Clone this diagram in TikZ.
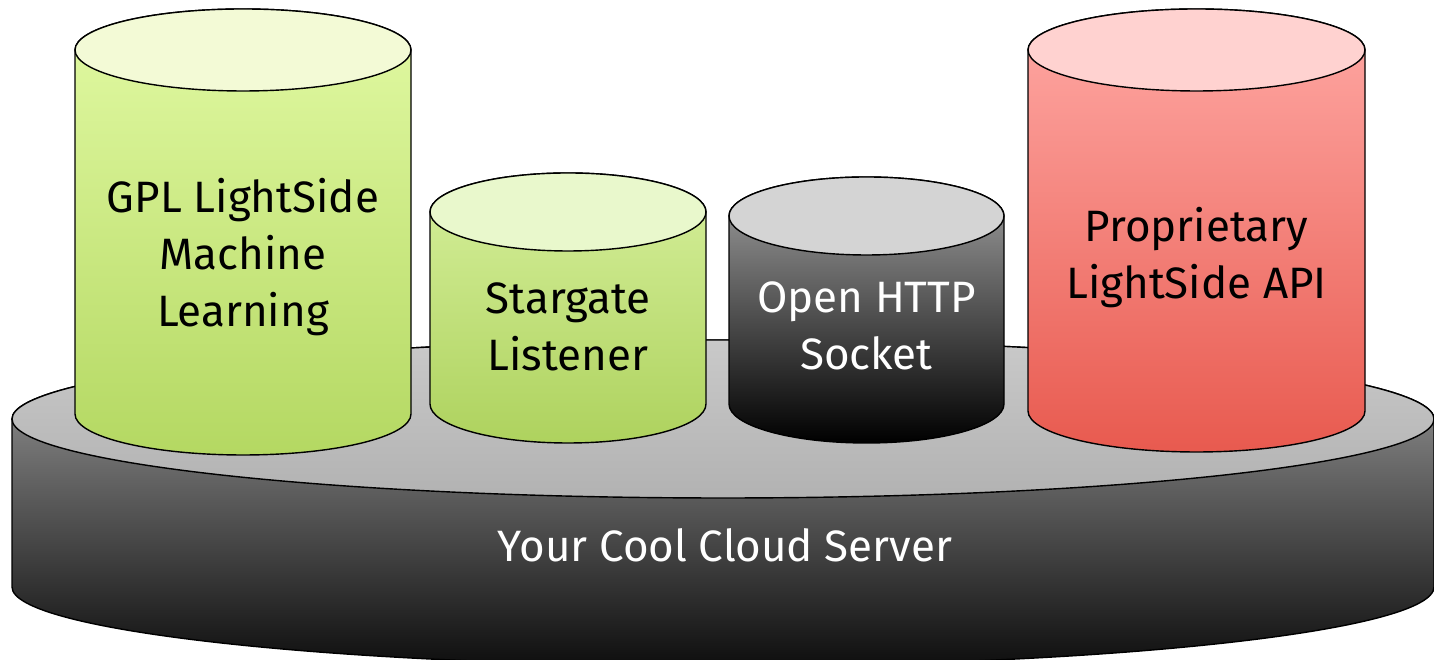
\documentclass[tikz,border=0pt]{standalone}
\usepackage{fontspec}
\setmainfont{Fira Sans}
\usetikzlibrary{positioning}

\definecolor{gpltop}{HTML}{F3FAD6}
\definecolor{gplhi}{HTML}{E2FAA4}
\definecolor{gpllo}{HTML}{B4D862}
\definecolor{sgtop}{HTML}{E9F8CC}
\definecolor{sghi}{HTML}{D6F09C}
\definecolor{sglo}{HTML}{AED25E}
\definecolor{socktop}{HTML}{D4D4D4}
\definecolor{sockhi}{HTML}{A4A4A4}
\definecolor{socklo}{HTML}{000000}
\definecolor{proptop}{HTML}{FFD2D0}
\definecolor{prophi}{HTML}{FFA9A5}
\definecolor{proplo}{HTML}{E85A4F}
\definecolor{srvtop}{HTML}{C9C9C9}
\definecolor{srvtoplo}{HTML}{B2B2B2}
\definecolor{srvhi}{HTML}{A2A2A2}
\definecolor{srvlo}{HTML}{0E0E0E}

\tikzset{
  outline/.style={draw=black, line width=0.8pt},
  label/.style={align=center, font=\fontsize{25}{32.5}\selectfont},
}

\begin{document}
\begin{tikzpicture}
			\useasboundingbox (0,0) rectangle (28.68,13.2);

			% Server disk
			\path[outline, top color=srvhi, bottom color=srvlo]
				(0.24,4.82) -- (0.24,1.46) arc[start angle=180, end angle=360, x radius=14.22, y radius=1.58]
				-- (28.68,4.82) arc[start angle=0, end angle=180, x radius=14.22, y radius=1.58] -- cycle;
			\draw[outline, top color=srvtop, bottom color=srvtoplo] (14.46,4.82) ellipse[x radius=14.22, y radius=1.58];
			\node[label, text=white] (server) at (14.5,2.3) {Your Cool Cloud Server};

			% GPL LightSide
			\path[outline, top color=gplhi, bottom color=gpllo]
				(1.5,12.2) -- (1.5,4.92) arc[start angle=180, end angle=360, x radius=3.36, y radius=0.82]
				-- (8.22,12.2) arc[start angle=0, end angle=180, x radius=3.36, y radius=0.82] -- cycle;
			\draw[outline, fill=gpltop] (4.86,12.2) ellipse[x radius=3.36, y radius=0.82];
			\node[label] (gpl) at (4.86,8.06) {GPL LightSide\\Machine\\Learning};

			% Stargate
			\path[outline, top color=sghi, bottom color=sglo]
				(8.6,8.96) -- (8.6,5.12) arc[start angle=180, end angle=360, x radius=2.76, y radius=0.78]
				-- (14.12,8.96) arc[start angle=0, end angle=180, x radius=2.76, y radius=0.78] -- cycle;
			\draw[outline, fill=sgtop] (11.36,8.96) ellipse[x radius=2.76, y radius=0.78];
			\node[label] (stargate) at (11.36,6.66) {Stargate\\Listener};

			% HTTP socket
			\path[outline, top color=sockhi, bottom color=socklo]
				(14.58,8.88) -- (14.58,5.12) arc[start angle=180, end angle=360, x radius=2.75, y radius=0.78]
				-- (20.08,8.88) arc[start angle=0, end angle=180, x radius=2.75, y radius=0.78] -- cycle;
			\draw[outline, fill=socktop] (17.33,8.88) ellipse[x radius=2.75, y radius=0.78];
			\node[label, text=white] (socket) at (17.33,6.68) {Open HTTP\\Socket};

			% Proprietary API
			\path[outline, top color=prophi, bottom color=proplo]
				(20.56,12.2) -- (20.56,4.98) arc[start angle=180, end angle=360, x radius=3.37, y radius=0.82]
				-- (27.3,12.2) arc[start angle=0, end angle=180, x radius=3.37, y radius=0.82] -- cycle;
			\draw[outline, fill=proptop] (23.93,12.2) ellipse[x radius=3.37, y radius=0.82];
			\node[label] (api) at (23.93,8.04) {Proprietary\\LightSide API};
\end{tikzpicture}
\end{document}
